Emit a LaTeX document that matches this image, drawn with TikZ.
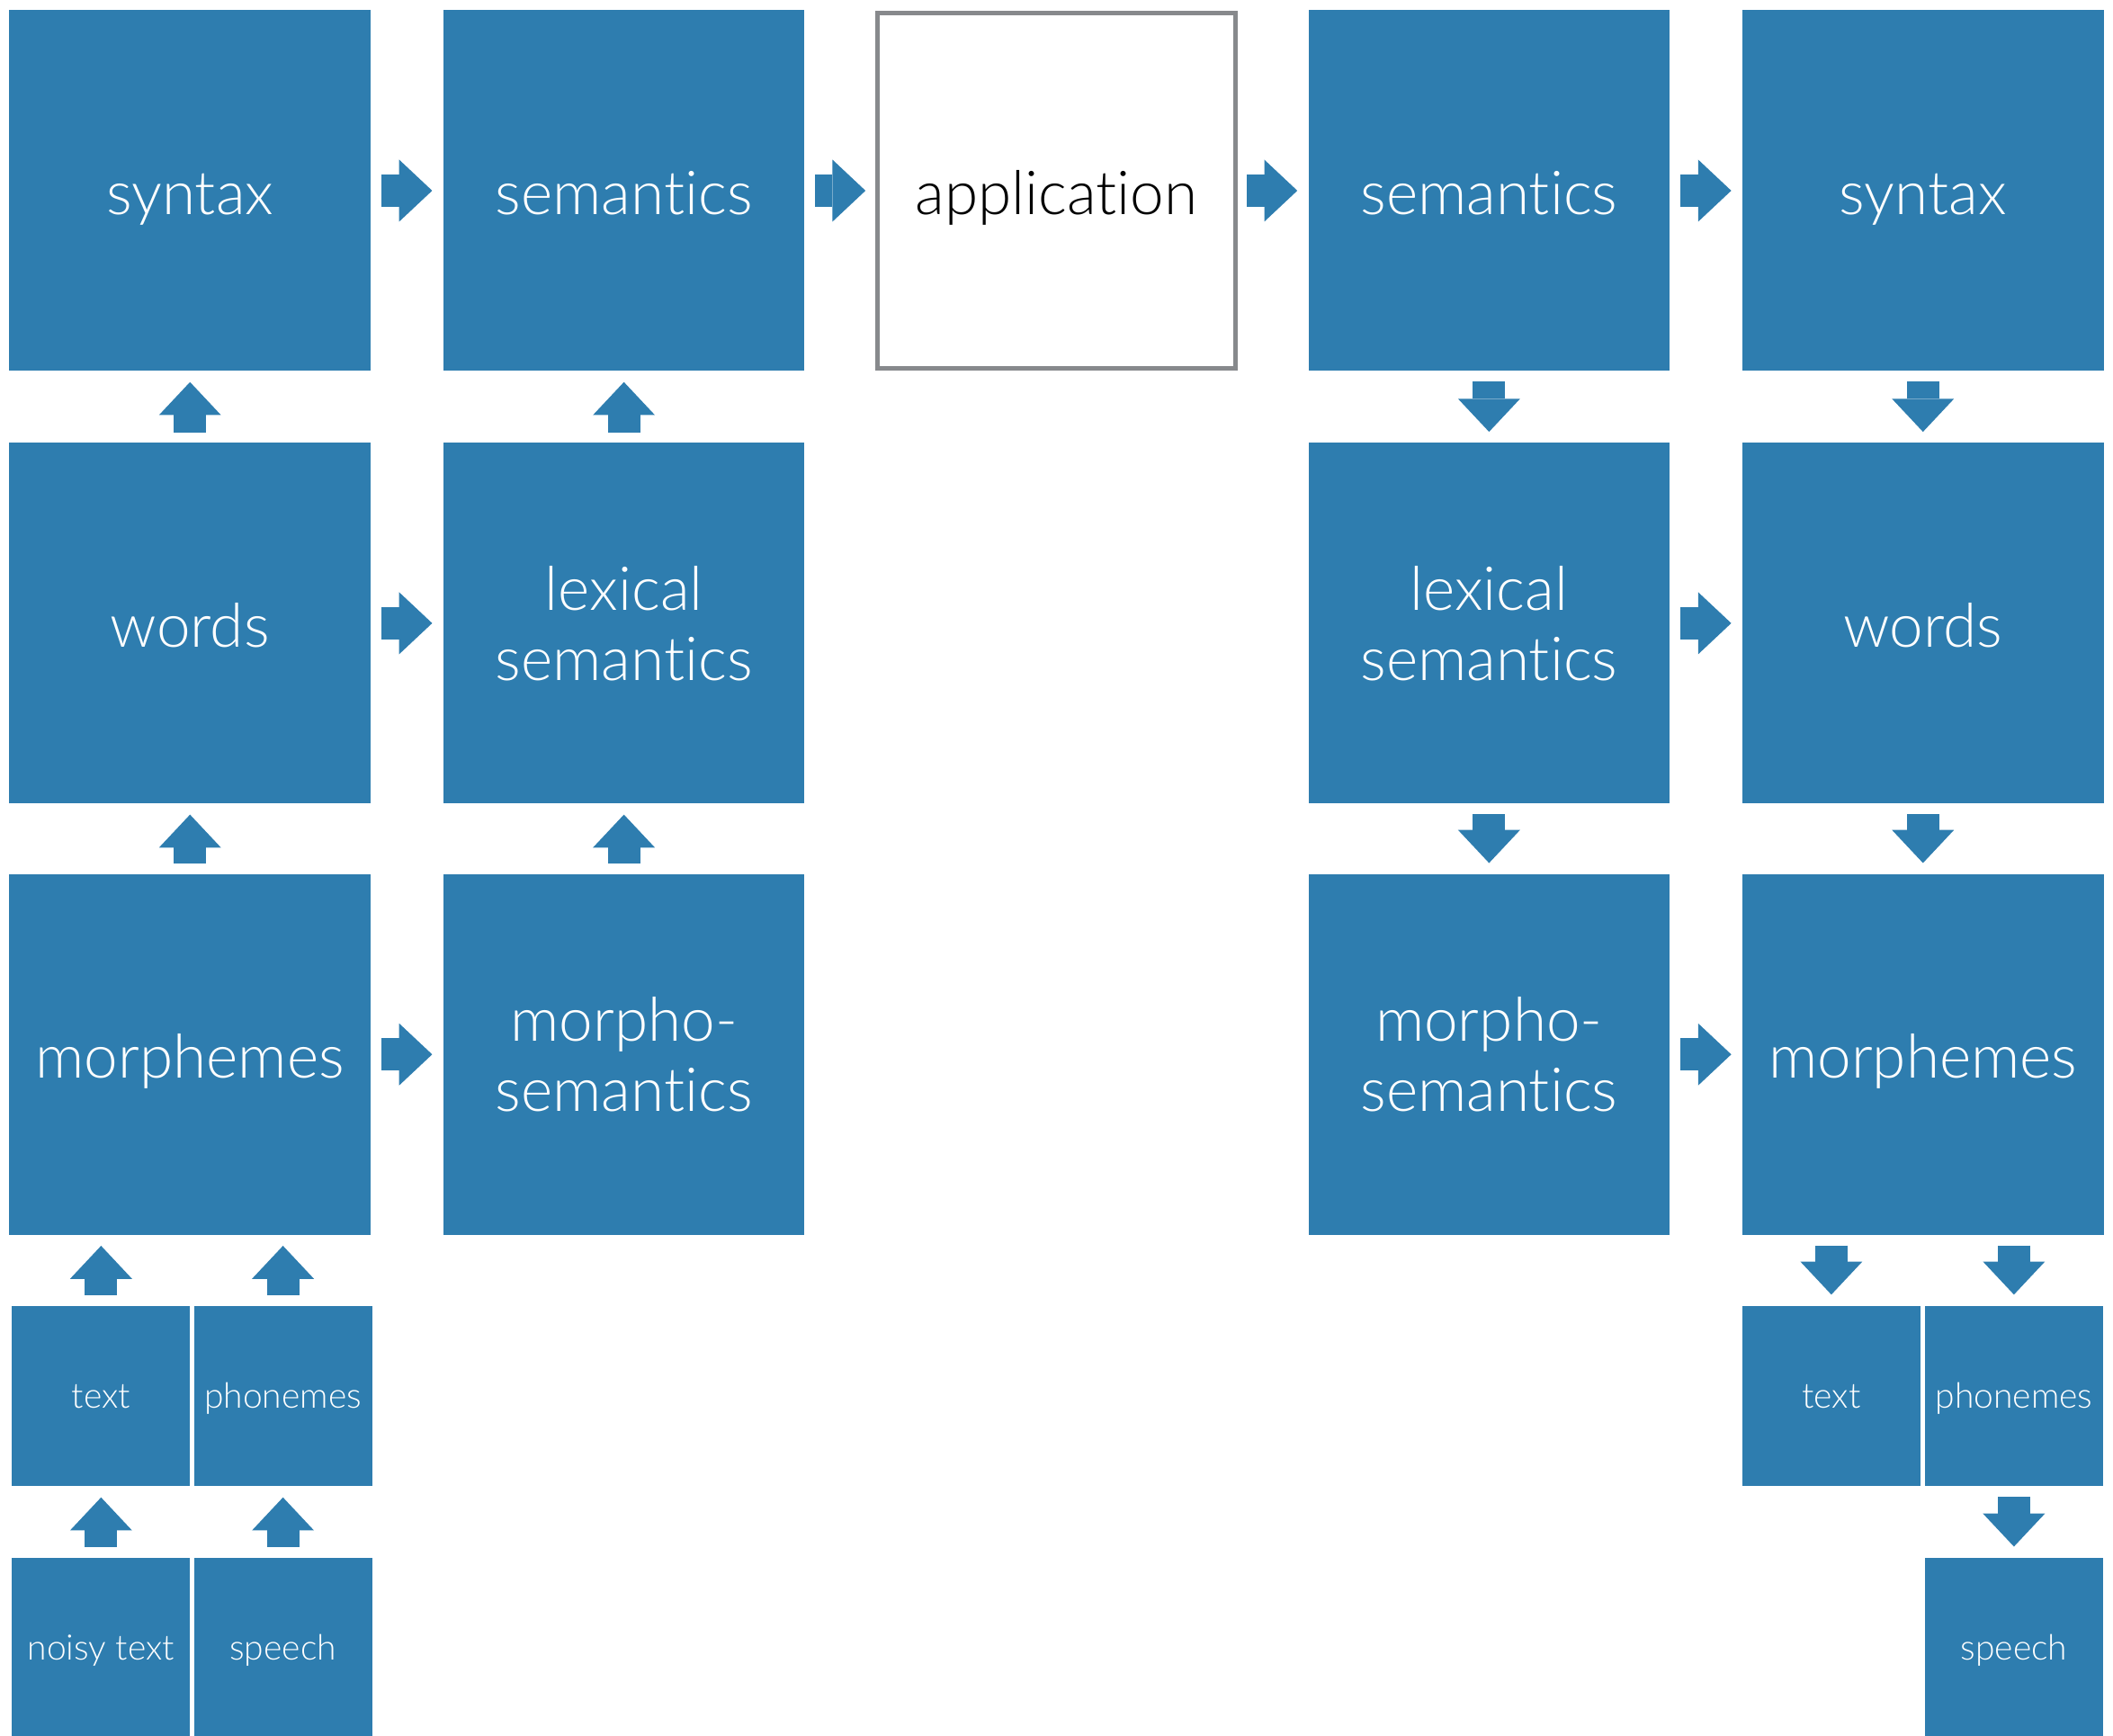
\documentclass[tikz,border=0pt]{standalone}
\usepackage{fontspec}
\setmainfont{Lato}[UprightFont=* Light, Ligatures=NoCommon]
\usetikzlibrary{arrows.meta}
\definecolor{tileblue}{RGB}{46,125,175}
\definecolor{framegray}{RGB}{135,137,140}

\begin{document}
\begin{tikzpicture}[x=0.01cm, y=-0.01cm, oneline/.style={text height=10pt, text depth=0pt}]

\useasboundingbox (0,0) rectangle (1568,1288);

\begin{scope}[every node/.style={rectangle, fill=tileblue, text=white, inner sep=0pt, align=center, minimum width=2.68cm, minimum height=2.675cm, font=\fontsize{12.8}{14.8}\selectfont}]
    \node[oneline] (syn) at (141,141.5) {syntax};
    \node[oneline] (sem) at (463,141.5) {semantics};
    \node[oneline] (wrd) at (141,462.5) {words};
    \node (lex) at (463,462.5) {lexical\\semantics};
    \node[oneline] (mor) at (141,782.5) {morphemes};
    \node (msem) at (463,782.5) {morpho-\\semantics};
    \node[oneline, fill=white, text=black, draw=framegray, line width=0.033cm, minimum width=2.65cm, minimum height=2.64cm] (app) at (784,141.5) {application};
    \node[oneline] (sem2) at (1105,141.5) {semantics};
    \node[oneline] (syn2) at (1427,141.5) {syntax};
    \node (lex2) at (1105,462.5) {lexical\\semantics};
    \node[oneline] (wrd2) at (1427,462.5) {words};
    \node (msem2) at (1105,782.5) {morpho-\\semantics};
    \node[oneline] (mor2) at (1427,782.5) {morphemes};
\end{scope}

\begin{scope}[every node/.style={rectangle, fill=tileblue, text=white, inner sep=0pt, minimum width=1.32cm, minimum height=1.34cm, text height=5pt, text depth=0pt, font=\fontsize{7.4}{8.6}\selectfont}]
    \node (txt) at (75,1036) {text};
    \node (pho) at (210,1036) {phonemes};
    \node (noi) at (75,1223) {noisy text};
    \node (spc) at (210,1223) {speech};
    \node (txt2) at (1359,1036) {text};
    \node (pho2) at (1494.5,1036) {phonemes};
    \node (spc2) at (1494.5,1223) {speech};
\end{scope}

\begin{scope}[draw=tileblue, line width=0.24cm, -{Triangle[width=0.46cm, length=0.245cm, line width=0pt]}, shorten <=0.072cm, shorten >=0.075cm]
    % analysis side
    \draw (syn) -- (sem);
    \draw (sem) -- (app);
    \draw (wrd) -- (lex);
    \draw (mor) -- (msem);
    \draw (wrd) -- (syn);
    \draw (mor) -- (wrd);
    \draw (lex) -- (sem);
    \draw (msem) -- (lex);
    \draw (txt) -- (txt |- mor.south);
    \draw (pho) -- (pho |- mor.south);
    \draw (noi) -- (txt);
    \draw (spc) -- (pho);
    % generation side
    \draw (app) -- (sem2);
    \draw (sem2) -- (syn2);
    \draw (lex2) -- (wrd2);
    \draw (msem2) -- (mor2);
    \draw (sem2) -- (lex2);
    \draw (lex2) -- (msem2);
    \draw (syn2) -- (wrd2);
    \draw (wrd2) -- (mor2);
    \draw (txt2 |- mor2.south) -- (txt2);
    \draw (pho2 |- mor2.south) -- (pho2);
    \draw (pho2) -- (spc2);
\end{scope}

\end{tikzpicture}
\end{document}
